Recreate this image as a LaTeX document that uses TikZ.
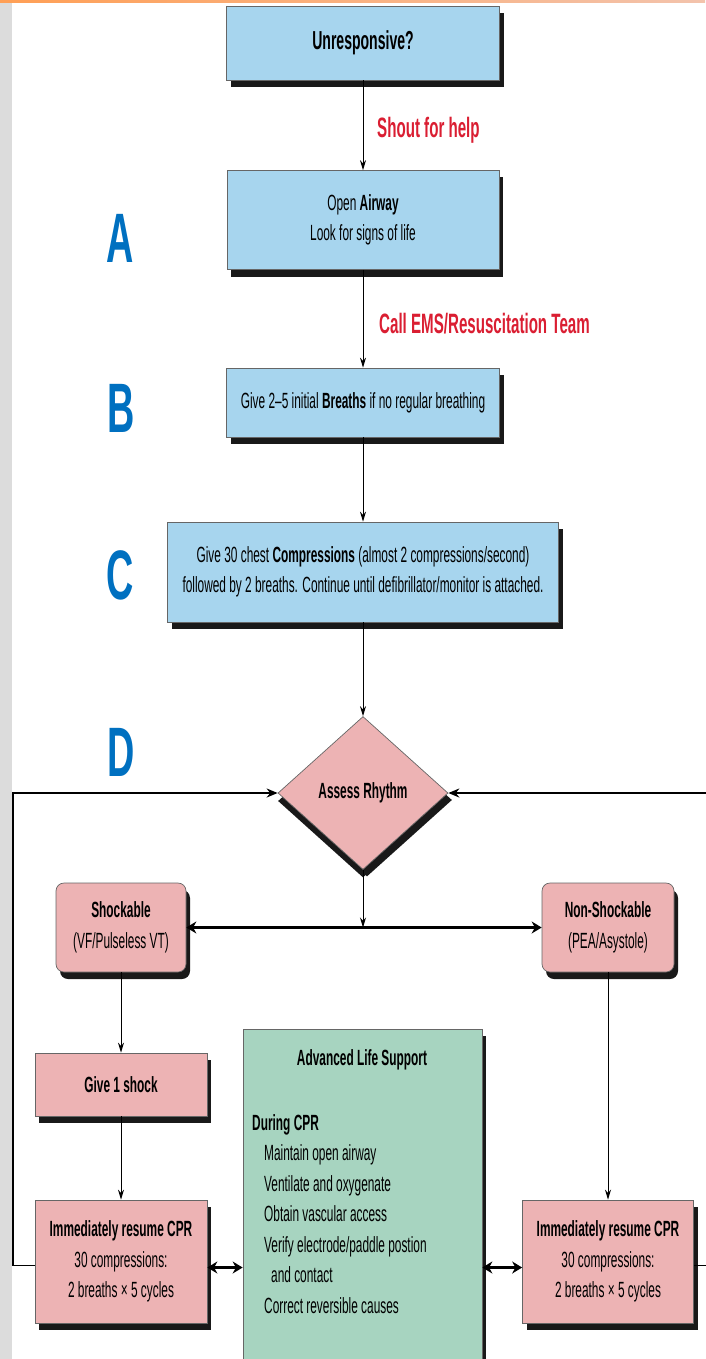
\documentclass[tikz,border=0pt]{standalone}
\usepackage{fontspec}
\setmainfont{Liberation Sans}[FakeStretch=0.54]
\usetikzlibrary{arrows.meta,shapes.geometric,shadows}
\definecolor{cprblue}{HTML}{A7D5EE}
\definecolor{cprpink}{HTML}{EDB3B4}
\definecolor{cprgreen}{HTML}{A7D4C0}
\definecolor{cprred}{HTML}{DA1E32}
\definecolor{cprletter}{HTML}{0070C0}
\definecolor{stripgray}{HTML}{DCDCDC}
\definecolor{striporange}{HTML}{FF9F55}
\definecolor{stripfade}{HTML}{F3C3AC}

\begin{document}
\begin{tikzpicture}[
        x=1pt, y=-1pt,
        every node/.style={font=\fontsize{22}{30.5}\selectfont, text=black, align=center, inner sep=0pt},
        boldtext/.style={font=\fontsize{22}{30.5}\selectfont\bfseries},
        box/.style={draw=black!60, line width=0.7pt,
            drop shadow={opacity=1, fill=black!90, shadow xshift=4pt, shadow yshift=-7pt}},
        bluebox/.style={box, fill=cprblue},
        pinkbox/.style={box, fill=cprpink},
        ar/.style={-{Stealth[length=10pt,width=6pt]}, line width=1pt},
        loopline/.style={-{Stealth[length=11pt,width=9pt]}, line width=1.8pt},
        twoway/.style={{Stealth[length=10pt,width=12pt]}-{Stealth[length=10pt,width=12pt]}, line width=2.2pt},
        redlabel/.style={text=cprred, font=\fontsize{28}{30}\selectfont\bfseries},
        letter/.style={text=cprletter, font=\fontsize{70}{72}\selectfont\bfseries},
    ]

    \useasboundingbox (0,0) rectangle (705,1359);
    \fill[stripgray] (0,0) rectangle (12,1359);
    \shade[left color=striporange, right color=stripfade] (0,0) rectangle (705,3);

    % A B C D column
    \node[letter](lA) at (120,238) {A};
    \node[letter](lB) at (121,408) {B};
    \node[letter](lC) at (120,575) {C};
    \node[letter](lD) at (121,752) {D};

    \node[bluebox, minimum width=273pt, minimum height=74pt, font=\fontsize{26}{30}\selectfont\bfseries](unresp) at (363,43) {Unresponsive?};
    \node[bluebox, minimum width=272pt, minimum height=99pt](airway) at (363,220) {Open \textbf{Airway}\\Look for signs of life};
    \node[bluebox, minimum width=273pt, minimum height=69pt](breaths) at (363,402.5) {Give 2–5 initial \textbf{Breaths} if no regular breathing};
    \node[bluebox, minimum width=391pt, minimum height=100pt](compress) at (363,572) {Give 30 chest \textbf{Compressions} (almost 2 compressions/second)\\followed by 2 breaths. Continue until defibrillator/monitor is attached.};
    \node[diamond, box, drop shadow={opacity=1, fill=black!90, shadow xshift=0pt, shadow yshift=-8pt}, fill=cprpink, minimum width=170pt, minimum height=153pt, boldtext](assess) at (363,793) {Assess Rhythm};

    \node[redlabel, anchor=base west](shout) at (377,138) {Shout for help};
    \node[redlabel, anchor=base west](callems) at (379,333) {Call EMS/Resuscitation Team};

    \node[pinkbox, rounded corners=8pt, minimum width=130pt, minimum height=89pt](shock) at (121,927.5) {\textbf{Shockable}\\(VF/Pulseless VT)};
    \node[pinkbox, rounded corners=8pt, minimum width=132pt, minimum height=89pt](nonshock) at (608,927.5) {\textbf{Non-Shockable}\\(PEA/Asystole)};
    \node[pinkbox, minimum width=172pt, minimum height=63pt, boldtext](giveshock) at (121,1084.5) {Give 1 shock};
    \node[pinkbox, minimum width=172pt, minimum height=123pt](resumeL) at (121,1261.5) {\textbf{Immediately resume CPR}\\30 compressions:\\2 breaths × 5 cycles};
    \node[pinkbox, minimum width=171pt, minimum height=123pt](resumeR) at (608,1261.5) {\textbf{Immediately resume CPR}\\30 compressions:\\2 breaths × 5 cycles};

    % advanced life support
    \node[box, fill=cprgreen, minimum width=239pt, minimum height=371pt](als) at (362.5,1214.5) {};
    \node[boldtext](alstitle) at (362,1060) {Advanced Life Support};
    \node[anchor=north west, align=left](alslist) at (252,1114) {\textbf{During CPR}\\
        \hspace*{12pt}Maintain open airway\\
        \hspace*{12pt}Ventilate and oxygenate\\
        \hspace*{12pt}Obtain vascular access\\
        \hspace*{12pt}Verify electrode/paddle postion\\
        \hspace*{19pt}and contact\\
        \hspace*{12pt}Correct reversible causes};

    \coordinate(split) at (assess.south |- shock.east);
    \coordinate(loopL) at (13,793);
    \coordinate(loopR) at (712,793);

    \path[ar]
    (unresp) edge (airway)
    (airway) edge (breaths)
    (breaths) edge (compress)
    (compress.south) edge (assess.north)
    (assess.south) edge (split)
    (shock) edge (giveshock)
    (giveshock) edge (resumeL)
    (nonshock) edge (resumeR)
    ;
    \draw[twoway] (shock) -- (nonshock);
    \draw[twoway] ([yshift=-6pt]resumeL.east) -- ([yshift=-6pt]resumeL.east -| als.west);
    \draw[twoway] ([yshift=-6pt]resumeR.west) -- ([yshift=-6pt]resumeR.west -| als.east);
    \draw[loopline] ([yshift=-4pt]resumeL.west) -| (loopL) -- (assess.west);
    \draw[loopline] ([yshift=-4pt]resumeR.east) -| (loopR) -- (assess.east);
\end{tikzpicture}
\end{document}
